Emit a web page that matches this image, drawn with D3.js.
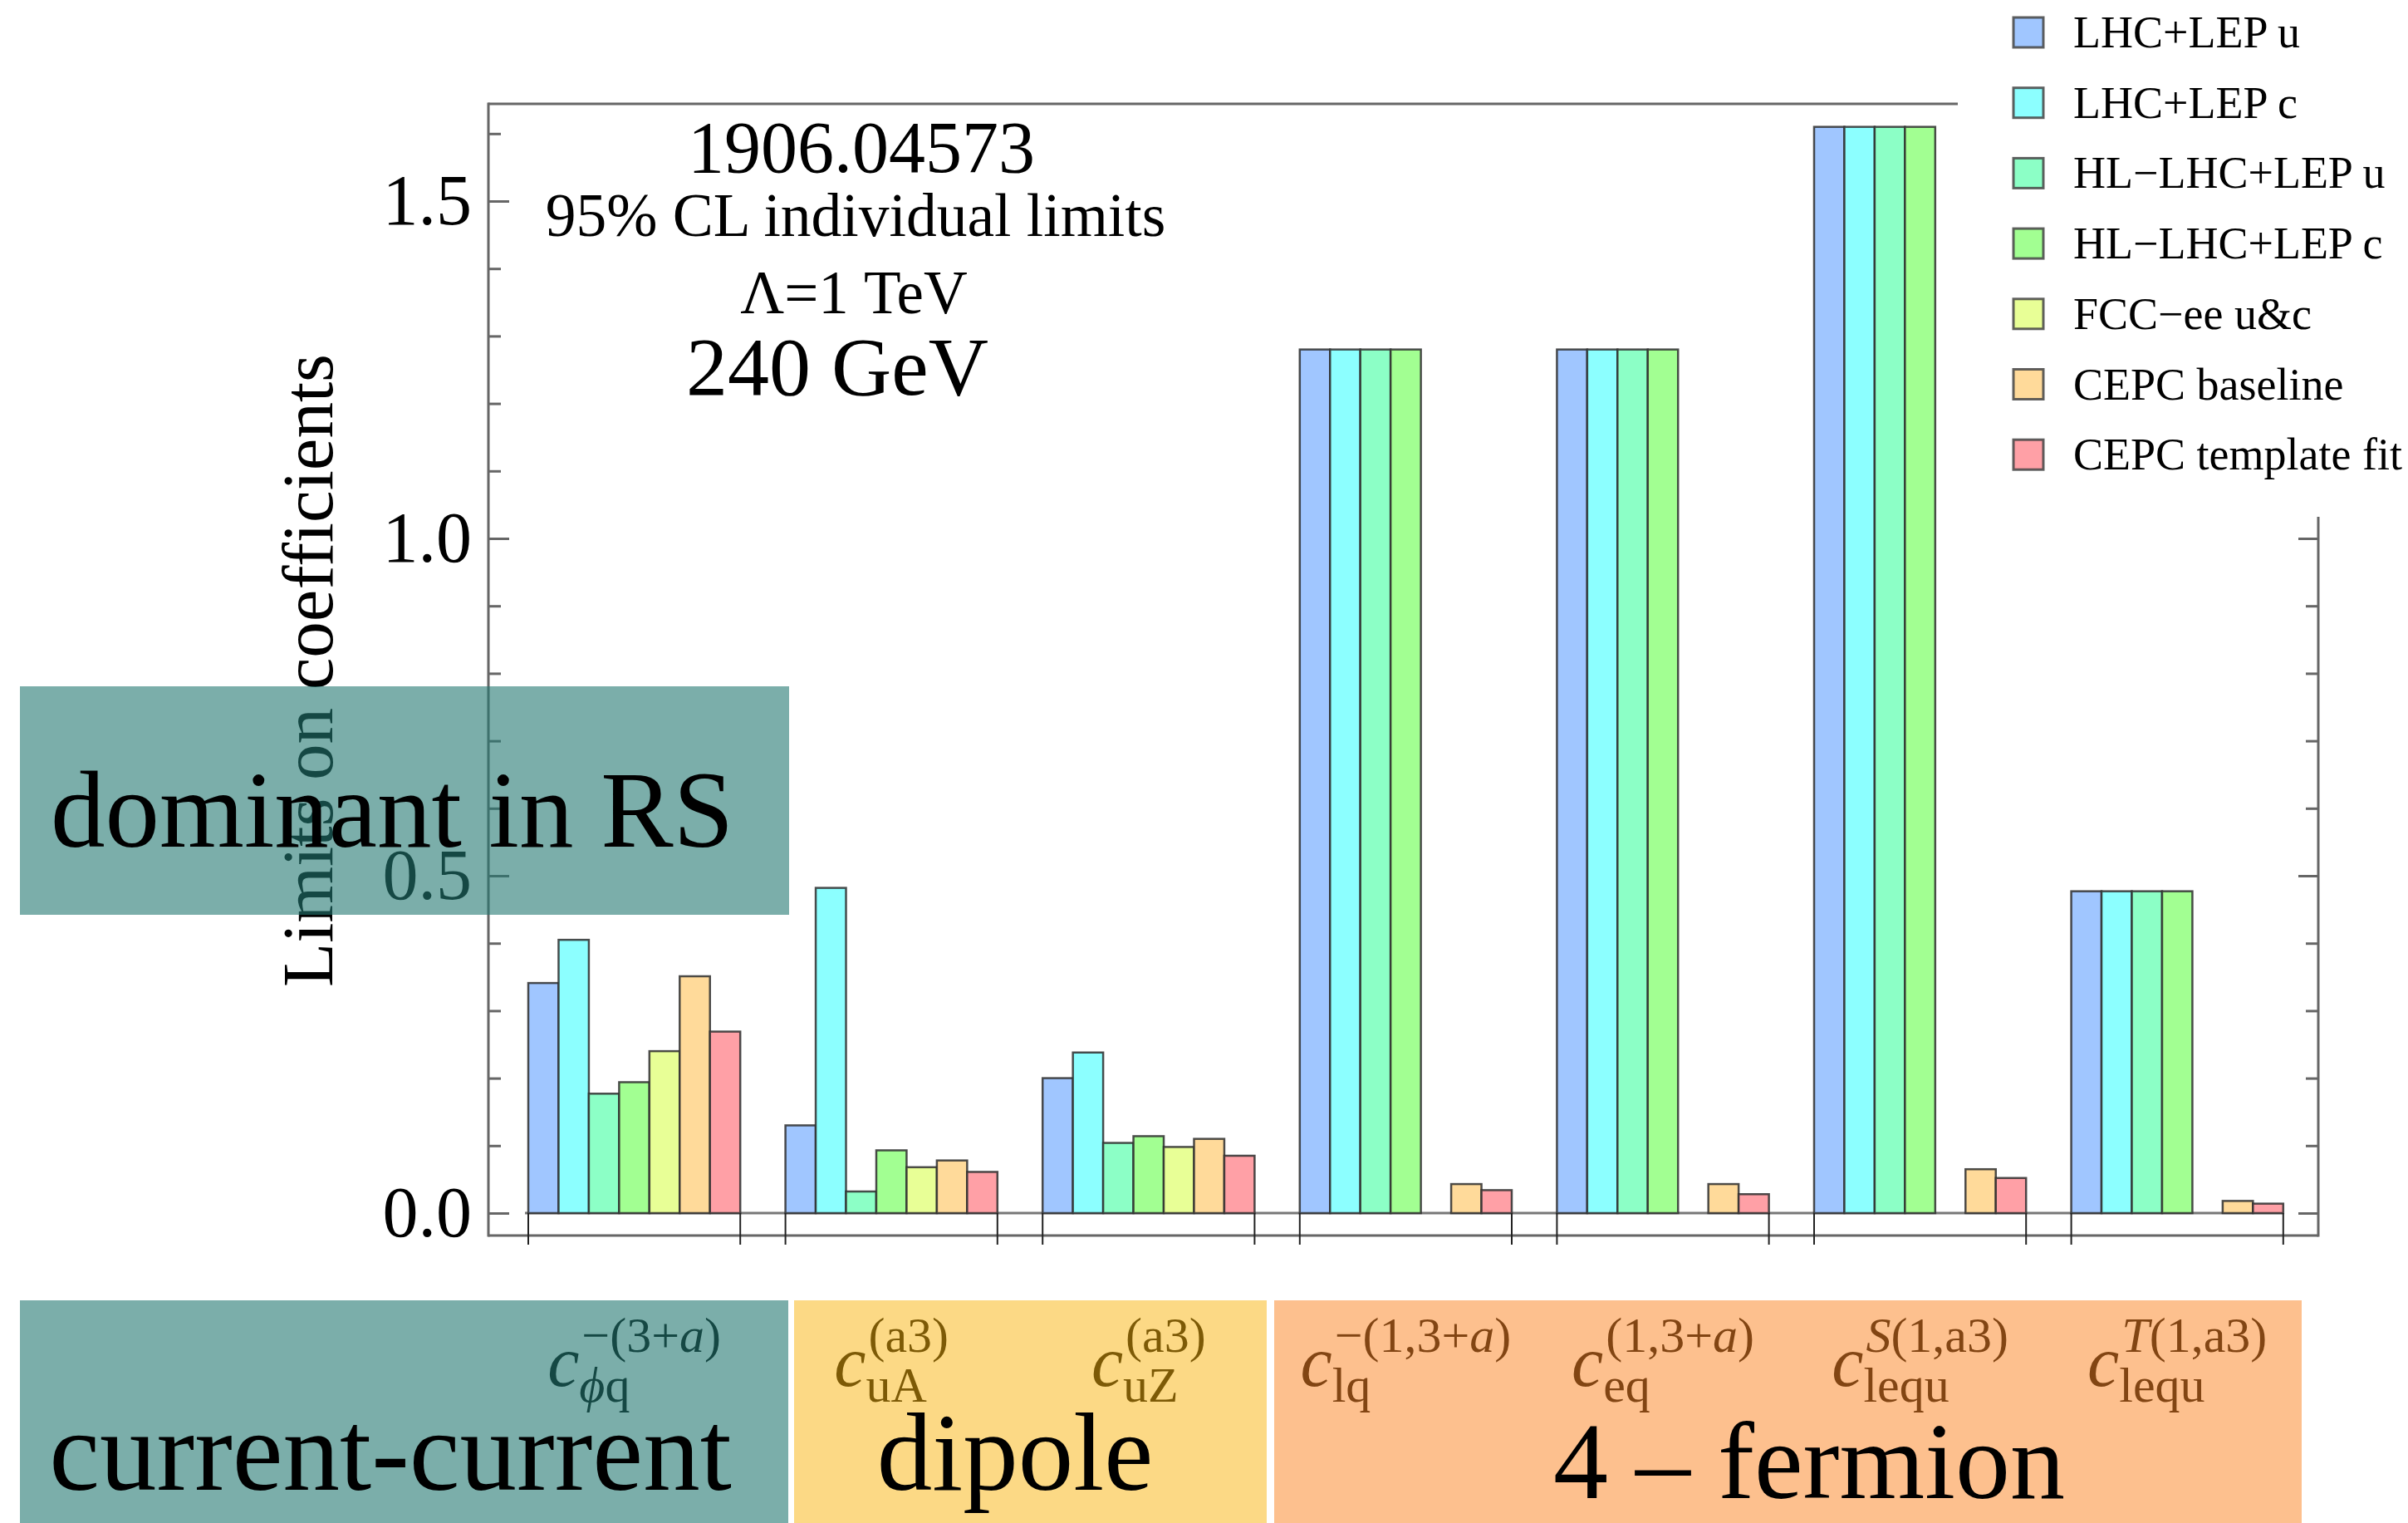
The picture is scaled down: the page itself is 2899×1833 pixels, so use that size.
<!DOCTYPE html>
<html><head><meta charset="utf-8">
<script src="https://cdn.jsdelivr.net/npm/d3@7"></script>
<style>
body{margin:0;background:#fff;}
svg{display:block;}
text{font-family:"Liberation Serif","Times New Roman",serif;}
</style>
</head><body>
<script>
// ---------------- DATA ----------------
const categories = ["phiq", "uA", "uZ", "lq", "eq", "lequS", "lequT"];
const catSub = ["ϕq", "uA", "uZ", "lq", "eq", "lequ", "lequ"];
const catSup = ["−(3+a)", "(a3)", "(a3)", "−(1,3+a)", "(1,3+a)", "S(1,a3)", "T(1,a3)"];
const seriesNames = ["LHC+LEP u", "LHC+LEP c", "HL−LHC+LEP u", "HL−LHC+LEP c", "FCC−ee u&c", "CEPC baseline", "CEPC template fit"];
const lhcLepU      = [0.341, 0.130, 0.200, 1.280, 1.280, 1.610, 0.477];
const lhcLepC      = [0.405, 0.482, 0.238, 1.280, 1.280, 1.610, 0.477];
const hlLhcLepU    = [0.177, 0.032, 0.104, 1.280, 1.280, 1.610, 0.477];
const hlLhcLepC    = [0.194, 0.093, 0.114, 1.280, 1.280, 1.610, 0.477];
const fccEe        = [0.240, 0.068, 0.098, null, null, null, null];
const cepcBaseline = [0.351, 0.078, 0.110, 0.043, 0.043, 0.065, 0.018];
const cepcTemplate = [0.269, 0.061, 0.085, 0.034, 0.028, 0.052, 0.014];
const seriesValues = [lhcLepU, lhcLepC, hlLhcLepU, hlLhcLepC, fccEe, cepcBaseline, cepcTemplate];
const seriesColors = ["#a0c6ff", "#8cffff", "#8cffc6", "#a2ff92", "#e8ff96", "#ffda9a", "#ffa0a6"];
const majorTicks = [0, 0.5, 1.0, 1.5];
const leftMinorTicks = [0.1, 0.2, 0.3, 0.4, 0.6, 0.7, 0.8, 0.9, 1.1, 1.2, 1.3, 1.4, 1.6];
const rightMajorTicks = [0, 0.5, 1.0];
const rightMinorTicks = [0.1, 0.2, 0.3, 0.4, 0.6, 0.7, 0.8, 0.9];
const titleLines = ["1906.04573", "95% CL individual limits", "Λ=1 TeV", "240 GeV"];
const yLabel = "Limits on coefficients";
const groupNames = ["current-current", "dipole", "4 – fermion"];
const overlayNote = "dominant in RS";

// ---------------- LAYOUT ----------------
const W = 2899, H = 1833;
const svg = d3.select("body").append("svg").attr("width", W).attr("height", H);
svg.append("rect").attr("width", W).attr("height", H).attr("fill", "#fff");

const frameL = 588, frameR = 2791, frameT = 125, frameB = 1487, rightTop = 622, topEnd = 2357;
const y = d3.scaleLinear().domain([0, 1.6]).range([1460, 1460 - 1.6 * 812]);
const x = d3.scaleBand().domain(categories).range([636, 2748.8]).paddingInner(0.1757).paddingOuter(0);
const xs = d3.scaleBand().domain(d3.range(seriesNames.length)).range([0, x.bandwidth()]).padding(0);

// titles
const titleSpec = [
  {x: 1037, y: 207, s: 88},
  {x: 1030, y: 284, s: 73.5},
  {x: 1028, y: 377, s: 73},
  {x: 1008, y: 475, s: 100}
];
titleLines.forEach((t, i) => {
  svg.append("text").attr("x", titleSpec[i].x).attr("y", titleSpec[i].y)
    .attr("text-anchor", "middle").attr("font-size", titleSpec[i].s).attr("fill", "#000").text(t);
});

// frame
const frame = svg.append("g").attr("stroke", "#666").attr("stroke-width", 3).attr("fill", "none");
frame.append("line").attr("x1", frameL).attr("x2", frameL).attr("y1", frameT - 1.5).attr("y2", frameB + 1.5);
frame.append("line").attr("x1", frameL).attr("x2", topEnd).attr("y1", frameT).attr("y2", frameT);
frame.append("line").attr("x1", frameR).attr("x2", frameR).attr("y1", rightTop).attr("y2", frameB + 1.5);
frame.append("line").attr("x1", frameL).attr("x2", frameR).attr("y1", frameB).attr("y2", frameB);

function styleAxis(g) {
  g.select(".domain").remove();
  g.selectAll(".tick line").attr("stroke", "#666").attr("stroke-width", 3);
  g.selectAll(".tick text").attr("font-size", 86).attr("fill", "#000")
    .attr("font-family", "Liberation Serif, Times New Roman, serif");
}
svg.append("g").attr("transform", `translate(${frameL},0)`)
  .call(d3.axisLeft(y).tickValues(leftMinorTicks).tickSize(-15).tickFormat("")).call(styleAxis);
svg.append("g").attr("transform", `translate(${frameL},0)`)
  .call(d3.axisLeft(y).tickValues(majorTicks).tickSize(-25).tickPadding(20).tickFormat(d3.format(".1f")))
  .call(styleAxis);
svg.append("g").attr("transform", `translate(${frameR},0)`)
  .call(d3.axisRight(y).tickValues(rightMinorTicks).tickSize(-15).tickFormat("")).call(styleAxis);
svg.append("g").attr("transform", `translate(${frameR},0)`)
  .call(d3.axisRight(y).tickValues(rightMajorTicks).tickSize(-24).tickFormat("")).call(styleAxis);

// zero line
svg.append("line").attr("x1", x(categories[0]) - 4).attr("x2", x(categories[categories.length - 1]) + x.bandwidth())
  .attr("y1", y(0)).attr("y2", y(0)).attr("stroke", "#777").attr("stroke-width", 3);

// bars
const barData = [];
seriesValues.forEach((vals, s) => vals.forEach((v, i) => {
  if (v !== null) barData.push({s, cat: categories[i], v});
}));
svg.append("g").selectAll("rect").data(barData).join("rect")
  .attr("x", d => x(d.cat) + xs(d.s))
  .attr("y", d => y(d.v))
  .attr("width", xs.bandwidth())
  .attr("height", d => y(0) - y(d.v))
  .attr("fill", d => seriesColors[d.s])
  .attr("stroke", "#2e2e2e").attr("stroke-opacity", 0.85).attr("stroke-width", 2.5);

// group separator ticks
const sepG = svg.append("g").attr("stroke", "#222").attr("stroke-width", 2);
categories.forEach(c => {
  [x(c), x(c) + x.bandwidth()].forEach(xx => {
    sepG.append("line").attr("x1", xx).attr("x2", xx).attr("y1", y(0)).attr("y2", 1498);
  });
});

// category labels
function addRich(textSel, str) {
  const chars = Array.from(str);
  chars.forEach((ch, k) => {
    const ital = "ϕST".includes(ch) || (ch === "a" && chars[k - 1] === "+");
    textSel.append("tspan").attr("font-style", ital ? "italic" : "normal").text(ch);
  });
}
categories.forEach((c, i) => {
  const g = svg.append("g");
  const main = g.append("text").attr("x", 0).attr("y", 1668).attr("font-size", 86)
    .attr("font-style", "italic").attr("fill", "#000").text("c");
  const cw = main.node().getComputedTextLength();
  const sup = g.append("text").attr("x", cw + 3).attr("y", 1627).attr("font-size", 60).attr("fill", "#000");
  addRich(sup, catSup[i]);
  const sub = g.append("text").attr("x", cw).attr("y", 1687).attr("font-size", 60).attr("fill", "#000");
  addRich(sub, catSub[i]);
  const total = cw + Math.max(sup.node().getComputedTextLength() + 3, sub.node().getComputedTextLength());
  const cx = x(c) + x.bandwidth() / 2;
  g.attr("transform", `translate(${cx - total / 2},0)`);
});

// legend
const legY0 = 39, legStep = 84.7;
const leg = svg.append("g");
seriesNames.forEach((n, i) => {
  const cy = legY0 + i * legStep;
  leg.append("rect").attr("x", 2424).attr("y", cy - 18).attr("width", 36).attr("height", 36)
    .attr("fill", seriesColors[i]).attr("stroke", "#444").attr("stroke-opacity", 0.85).attr("stroke-width", 3);
  leg.append("text").attr("x", 2496).attr("y", cy + 18).attr("font-size", 54).attr("fill", "#000").text(n);
});

// y label
svg.append("text").attr("transform", "translate(400,807) rotate(-90)")
  .attr("text-anchor", "middle").attr("font-size", 87).attr("fill", "#000").text(yLabel);

// overlays
svg.append("rect").attr("x", 24).attr("y", 826).attr("width", 926).attr("height", 275)
  .attr("fill", "rgb(35,120,113)").attr("fill-opacity", 0.6);
svg.append("text").attr("x", 61).attr("y", 1019).attr("font-size", 131).attr("fill", "#000").text(overlayNote);

const boxes = [
  {x0: 24, x1: 949, col: "rgb(35,120,113)", op: 0.6, tx: 470, ty: 1793, fs: 137},
  {x0: 956, x1: 1525, col: "rgb(250,179,11)", op: 0.5, tx: 1222, ty: 1793, fs: 133},
  {x0: 1534, x1: 2771, col: "rgb(251,133,37)", op: 0.518, tx: 2178, ty: 1803, fs: 132}
];
boxes.forEach((b, i) => {
  svg.append("rect").attr("x", b.x0).attr("y", 1565).attr("width", b.x1 - b.x0).attr("height", H - 1565)
    .attr("fill", b.col).attr("fill-opacity", b.op);
  svg.append("text").attr("x", b.tx).attr("y", b.ty).attr("text-anchor", "middle")
    .attr("font-size", b.fs).attr("fill", "#000").text(groupNames[i]);
});
</script>
</body></html>
